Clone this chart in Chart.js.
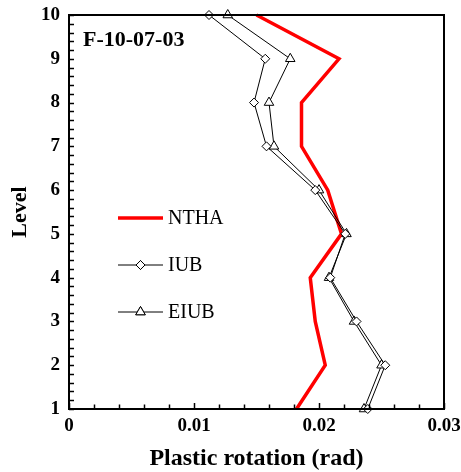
<!DOCTYPE html>
<html>
<head>
<meta charset="utf-8">
<script src="https://cdn.jsdelivr.net/npm/chart.js@4/dist/chart.umd.min.js"></script>
<style>
  html, body { margin: 0; padding: 0; background: #fff; }
  #wrap { width: 461px; height: 472px; position: relative; }
</style>
</head>
<body>
<div id="wrap"><canvas id="c" width="461" height="472"></canvas></div>
<script>
const levels = [1, 2, 3, 4, 5, 6, 7, 8, 9, 10];
const nthaValues = [0.0182, 0.0205, 0.0197, 0.0193, 0.0218, 0.0207, 0.0186, 0.0186, 0.0216, 0.0150];
const iubValues  = [0.0239, 0.0253, 0.0230, 0.0209, 0.0221, 0.0197, 0.0158, 0.0148, 0.0157, 0.0112];
const eiubValues = [0.0236, 0.0250, 0.0228, 0.0208, 0.0222, 0.0200, 0.0164, 0.0160, 0.0177, 0.0127];
const xTickLabels = ['0', '0.01', '0.02', '0.03'];
const yTickLabels = ['1', '2', '3', '4', '5', '6', '7', '8', '9', '10'];
const seriesNames = ['NTHA', 'IUB', 'EIUB'];
const panelLabel = 'F-10-07-03';
const xTitle = 'Plastic rotation (rad)';
const yTitle = 'Level';

function pairs(vals) { return vals.map((v, i) => ({ x: v, y: levels[i] })); }

const SERIF = '"Liberation Serif", "Times New Roman", serif';

const framePlugin = {
  id: 'frame',
  afterDraw(chart) {
    const ctx = chart.ctx;
    const a = chart.chartArea;
    const xs = chart.scales.x, ys = chart.scales.y;
    ctx.save();
    ctx.strokeStyle = '#000';
    ctx.lineWidth = 1.5;
    for (let k = 0; k <= 15; k++) {
      const v = k * 0.002;
      const px = Math.round(xs.getPixelForValue(v)) + 0.5;
      const len = (k % 5 === 0) ? 6 : 4.5;
      ctx.beginPath();
      ctx.moveTo(px, a.bottom);
      ctx.lineTo(px, a.bottom - len);
      ctx.stroke();
    }
    for (let k = 0; k <= 45; k++) {
      const v = 1 + k * 0.2;
      const py = Math.round(ys.getPixelForValue(v)) + 0.5;
      ctx.beginPath();
      ctx.moveTo(a.left, py);
      ctx.lineTo(a.left + 5, py);
      ctx.stroke();
    }
    ctx.lineWidth = 2;
    ctx.strokeRect(a.left, a.top, a.right - a.left, a.bottom - a.top);
    ctx.fillStyle = '#000';
    ctx.font = 'bold 22px ' + SERIF;
    ctx.textAlign = 'left';
    ctx.textBaseline = 'middle';
    ctx.fillText(panelLabel, 83, 40);
    const ly = [218, 265, 312];
    chart.data.datasets.forEach((ds, i) => {
      const y = ly[i];
      ctx.save();
      ctx.strokeStyle = ds.borderColor;
      ctx.lineWidth = ds.borderWidth;
      ctx.beginPath();
      ctx.moveTo(118, y);
      ctx.lineTo(163, y);
      ctx.stroke();
      if (ds.pointRadius > 0) {
        ctx.fillStyle = ds.pointBackgroundColor;
        ctx.strokeStyle = ds.pointBorderColor;
        ctx.lineWidth = ds.pointBorderWidth;
        Chart.helpers.drawPoint(ctx, { pointStyle: ds.pointStyle, radius: ds.pointRadius, rotation: 0, borderWidth: ds.pointBorderWidth }, 140.5, y);
        ctx.fill();
        ctx.stroke();
      }
      ctx.restore();
      ctx.fillStyle = '#000';
      ctx.font = '20px ' + SERIF;
      ctx.textAlign = 'left';
      ctx.textBaseline = 'middle';
      ctx.fillText(ds.label, 168, y + 1);
    });
    ctx.restore();
  }
};

const bgPlugin = {
  id: 'bg',
  beforeDraw(chart) {
    const ctx = chart.ctx;
    ctx.save();
    ctx.fillStyle = '#fff';
    ctx.fillRect(0, 0, chart.width, chart.height);
    ctx.restore();
  }
};

new Chart(document.getElementById('c'), {
  type: 'line',
  data: {
    datasets: [
      {
        label: seriesNames[0],
        data: pairs(nthaValues),
        borderColor: '#ff0000',
        borderWidth: 3.5,
        pointRadius: 0,
        pointHoverRadius: 0,
        tension: 0,
        order: 3,
        clip: false
      },
      {
        label: seriesNames[1],
        data: pairs(iubValues),
        borderColor: '#000',
        borderWidth: 1,
        pointStyle: 'rectRot',
        pointRadius: 4.5,
        pointBackgroundColor: '#fff',
        pointBorderColor: '#000',
        pointBorderWidth: 1,
        tension: 0,
        order: 1,
        clip: false
      },
      {
        label: seriesNames[2],
        data: pairs(eiubValues),
        borderColor: '#000',
        borderWidth: 1,
        pointStyle: 'triangle',
        pointRadius: 5.5,
        pointBackgroundColor: '#fff',
        pointBorderColor: '#000',
        pointBorderWidth: 1,
        tension: 0,
        order: 2,
        clip: false
      }
    ]
  },
  options: {
    responsive: false,
    animation: false,
    events: [],
    layout: { padding: { top: 15, right: 17, left: 0, bottom: 0 } },
    plugins: { legend: { display: false }, tooltip: { enabled: false } },
    scales: {
      x: {
        type: 'linear',
        min: 0, max: 0.03,
        afterFit(s) { s.height = 63; s.paddingLeft = 0; s.paddingRight = 0; },
        afterBuildTicks(s) { s.ticks = xTickLabels.map(t => ({ value: parseFloat(t) })); },
        ticks: {
          callback: (v, i) => xTickLabels[i],
          font: { family: SERIF, size: 19, weight: 'bold' },
          color: '#000',
          padding: 6,
          maxRotation: 0
        },
        grid: { display: false, drawTicks: false },
        border: { display: false },
        title: {
          display: true, text: xTitle, color: '#000',
          font: { family: SERIF, size: 24, weight: 'bold', lineHeight: 1 },
          padding: { top: 0, bottom: 1 }
        }
      },
      y: {
        type: 'linear',
        min: 1, max: 10,
        afterFit(s) { s.width = 69; s.paddingTop = 0; s.paddingBottom = 0; },
        afterBuildTicks(s) { s.ticks = yTickLabels.map(t => ({ value: parseFloat(t) })); },
        ticks: {
          callback: (v, i) => yTickLabels[i],
          font: { family: SERIF, size: 19, weight: 'bold' },
          color: '#000',
          padding: 9
        },
        grid: { display: false, drawTicks: false },
        border: { display: false },
        title: {
          display: true, text: yTitle, color: '#000',
          font: { family: SERIF, size: 22, weight: 'bold', lineHeight: 1 },
          padding: { top: 9, bottom: 0 }
        }
      }
    }
  },
  plugins: [bgPlugin, framePlugin]
});
</script>
</body>
</html>
